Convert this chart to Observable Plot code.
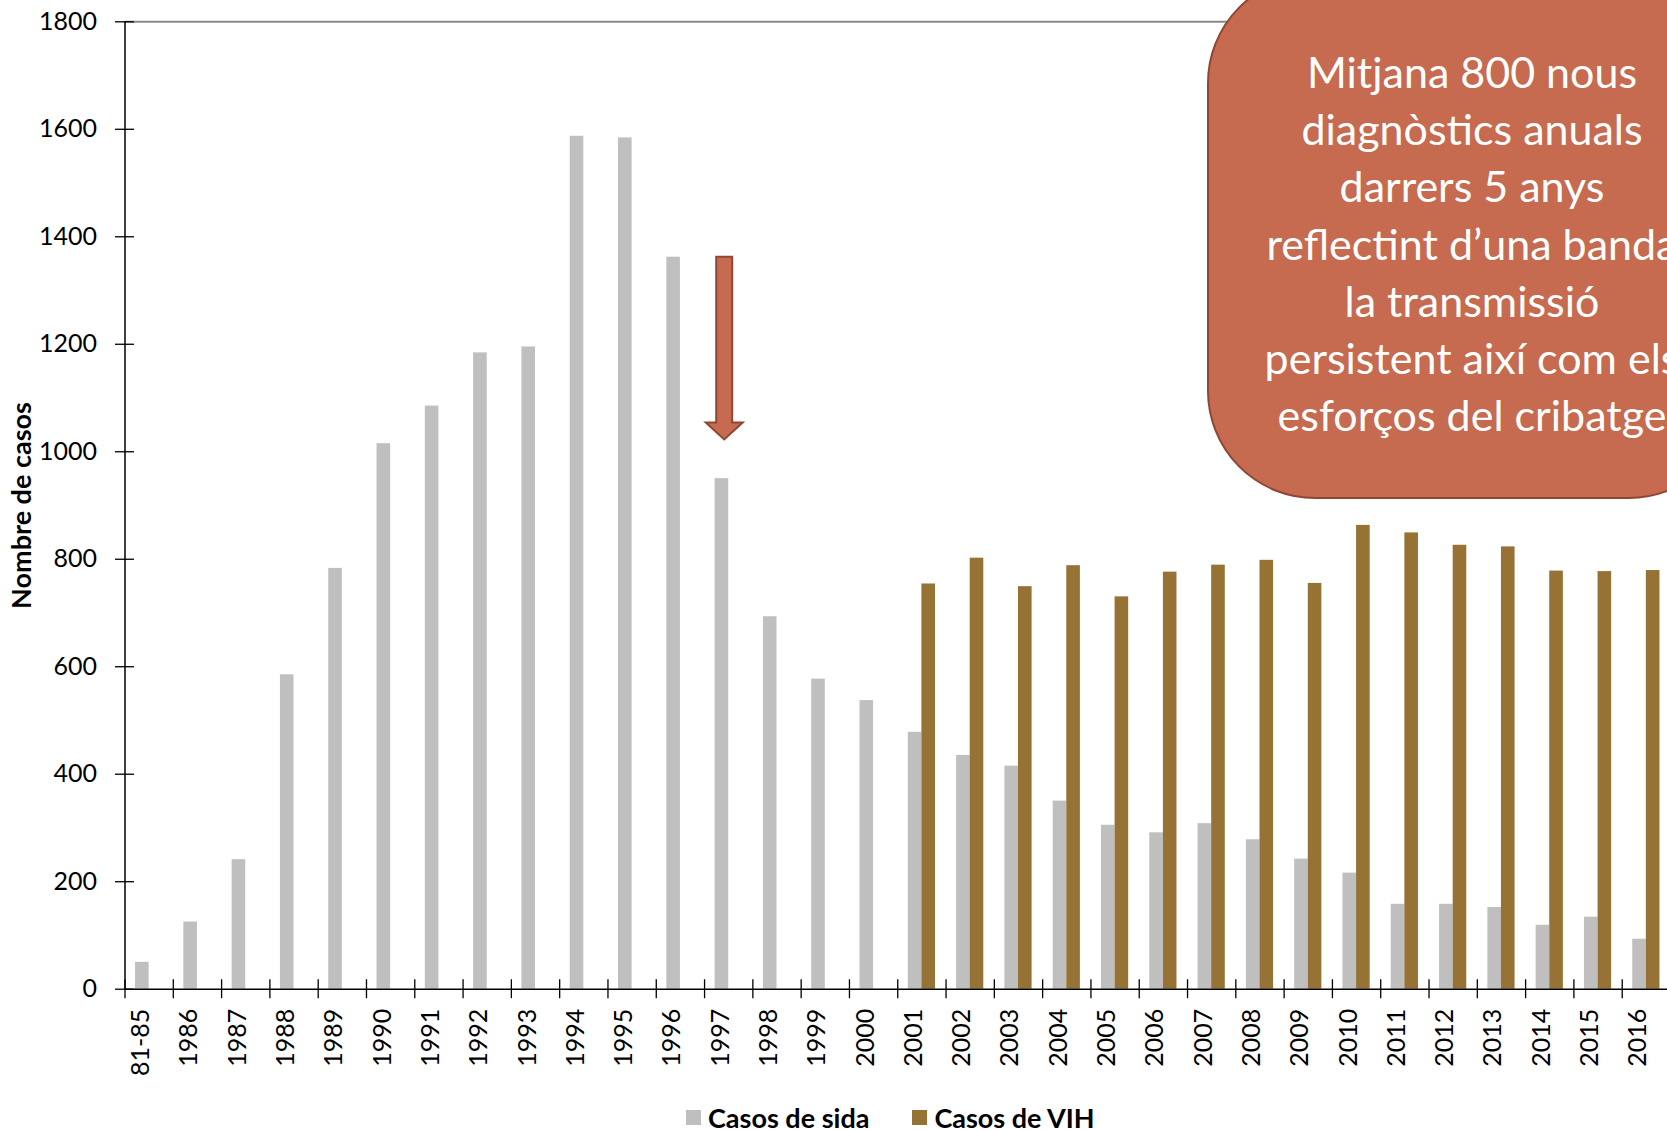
<!DOCTYPE html>
<html>
<head>
<meta charset="utf-8">
<script src="https://cdn.jsdelivr.net/npm/d3@7"></script>
<script src="https://cdn.jsdelivr.net/npm/@observablehq/plot@0.6"></script>
<style>
html, body { margin: 0; padding: 0; overflow: hidden; background: #fff; width: 1667px; height: 1130px; }
#wrap { position: relative; width: 1667px; height: 1130px; overflow: hidden; font-family: Lato, sans-serif; }
#wrap svg { display: block; }
#callout {
  position: absolute; left: 1207px; top: -25px; width: 530px; height: 524px;
  box-sizing: border-box; border-radius: 108px; background: #C66A50; border: 2.5px solid #8E4733;
  color: #fff; font-family: Lato, sans-serif; font-size: 43px; line-height: 57.2px;
  text-align: center; white-space: nowrap; padding-top: 66px;
}
#legend {
  position: absolute; left: 686px; top: 1100px; height: 35px; display: flex; align-items: center;
  font-family: Lato, sans-serif; font-weight: bold; font-size: 27px; color: #000; white-space: nowrap;
}
#legend .sw { width: 15px; height: 15px; display: inline-block; margin-right: 7px; }
#legend .item { display: flex; align-items: center; margin-right: 43px; }
</style>
</head>
<body>
<div id="wrap"></div>
<script>
const categories = ["81-85","1986","1987","1988","1989","1990","1991","1992","1993","1994","1995","1996","1997","1998","1999","2000",
  "2001","2002","2003","2004","2005","2006","2007","2008","2009","2010","2011","2012","2013","2014","2015","2016"];
const sida = [50,125,241,585,783,1015,1085,1184,1195,1587,1584,1362,950,693,577,537,
  478,435,415,350,305,291,308,278,242,216,158,158,152,119,134,93];
const vih = [null,null,null,null,null,null,null,null,null,null,null,null,null,null,null,null,
  754,802,749,788,730,776,789,798,755,863,849,826,823,778,777,779];
const yTicks = [0,200,400,600,800,1000,1200,1400,1600,1800];
const seriesNames = ["Casos de sida","Casos de VIH"];
const seriesColors = ["#BFBFBF","#967334"];
const yLabel = "Nombre de casos";
const calloutLines = ["Mitjana 800 nous","diagnòstics anuals","darrers 5 anys","reflectint d’una banda","la transmissió","persistent així com els","esforços del cribatge"];
const arrowCategory = "1997";
const arrowFrom = 1362, arrowTo = 1022;

const W = 1667, H = 1090;
const mL = 124.5, mR = -3, mT = 21.3, mB = H - 988.7;
const bw = (W - mL - mR) / categories.length;
const barW = 13.6;
const side = (bw - 2 * barW) / 2;
const plotW = W - mL - mR;

const rows = categories.map((c, i) => ({cat: c, sida: sida[i], vih: vih[i]}));

const chart = Plot.plot({
  width: W, height: H,
  marginLeft: mL, marginRight: mR, marginTop: mT, marginBottom: mB,
  style: {fontFamily: "Lato, sans-serif", fontSize: "25px", color: "#000", background: "#fff", overflow: "hidden"},
  x: {type: "band", domain: categories, padding: 0, round: false, axis: null},
  y: {domain: [0, 1800], axis: null},
  marks: [
    Plot.ruleY([1800], {stroke: "#898989", strokeWidth: 2}),
    Plot.barY(rows, {x: "cat", y: "sida", fill: seriesColors[0], insetLeft: side, insetRight: side + barW}),
    Plot.barY(rows.filter(d => d.vih != null), {x: "cat", y: "vih", fill: seriesColors[1], insetLeft: side + barW, insetRight: side}),
    Plot.ruleY([0], {stroke: "#000", strokeWidth: 1.5}),
    Plot.ruleX([categories[0]], {x: d => d, y1: 1800, y2: 0, dx: -bw / 2, stroke: "#000", strokeWidth: 1.5}),
    Plot.ruleX(categories, {x: d => d, y1: 0, y2: 0, dx: -bw / 2, insetTop: 9.5, insetBottom: 9.5, stroke: "#000", strokeWidth: 1.3}),
    Plot.ruleY(yTicks, {y: d => d, insetLeft: -9.5, insetRight: plotW - 9.5, stroke: "#000", strokeWidth: 1.3}),
    Plot.text(yTicks, {y: d => d, frameAnchor: "left", text: d => String(d), textAnchor: "end", dx: -28, fontSize: 25, fill: "#000"}),
    Plot.text(categories, {x: d => d, frameAnchor: "bottom", text: d => d, rotate: -90, textAnchor: "end", dy: 19.5, fontSize: 25, fill: "#000"}),
    Plot.text([yLabel], {frameAnchor: "left", text: d => d, rotate: -90, textAnchor: "middle", dx: 22 - mL, fontSize: 27, fontWeight: "bold", fill: "#000"})
  ]
});

// block arrow positioned with the chart's own scales
const xs = chart.scale("x"), ys = chart.scale("y");
const acx = xs.apply(arrowCategory) + xs.bandwidth / 2 - 4;
const aTop = ys.apply(arrowFrom), aTip = ys.apply(arrowTo);
const sh = 8, hh = 18.5, hl = 17;
d3.select(chart).append("path")
  .attr("d", `M${acx - sh},${aTop}L${acx + sh},${aTop}L${acx + sh},${aTip - hl}L${acx + hh},${aTip - hl}L${acx},${aTip}L${acx - hh},${aTip - hl}L${acx - sh},${aTip - hl}Z`)
  .attr("fill", "#C66A50").attr("stroke", "#8E4733").attr("stroke-width", 2);

const wrap = document.getElementById("wrap");
wrap.appendChild(chart);

const callout = document.createElement("div");
callout.id = "callout";
callout.innerHTML = calloutLines.join("<br>");
wrap.appendChild(callout);

const legend = document.createElement("div");
legend.id = "legend";
legend.innerHTML = seriesNames.map((n, i) => `<span class="item"><span class="sw" style="background:${seriesColors[i]}"></span>${n}</span>`).join("");
wrap.appendChild(legend);
</script>
</body>
</html>
